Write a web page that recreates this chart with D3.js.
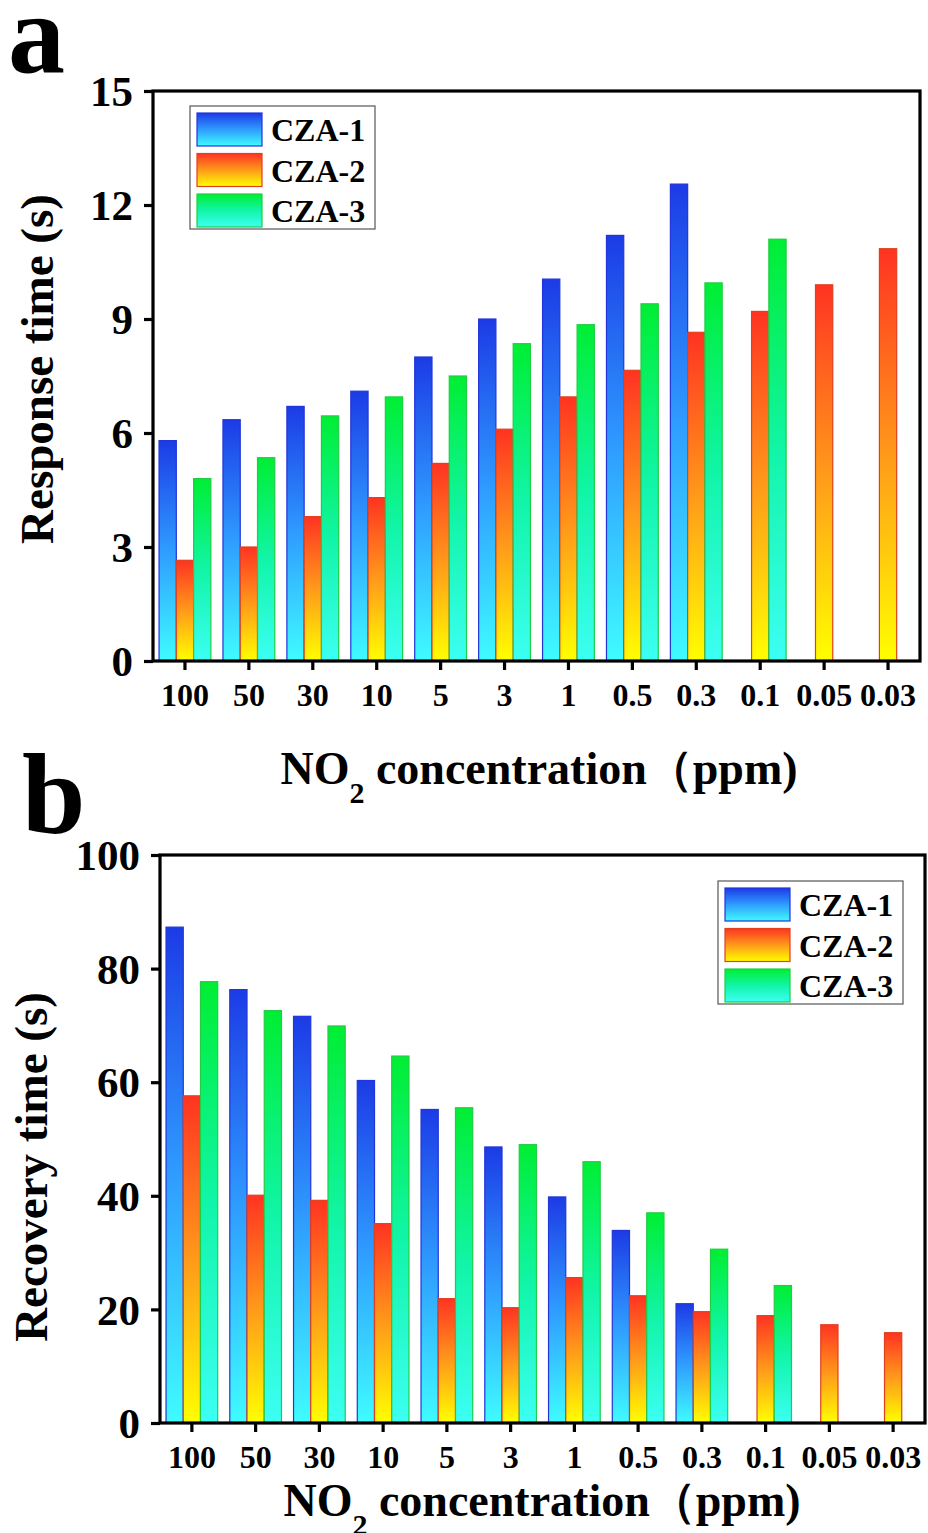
<!DOCTYPE html>
<html>
<head>
<meta charset="utf-8">
<script src="https://cdn.jsdelivr.net/npm/d3@7"></script>
<style>
  html, body { margin: 0; padding: 0; background: #fff; }
  svg text { font-family: "Liberation Serif", "Times New Roman", serif; font-weight: bold; fill: #000; }
</style>
</head>
<body>
<svg id="fig" width="928" height="1533"></svg>
<script>
// NO2 concentrations (ppm) along the x axis
const concentrations = ["100", "50", "30", "10", "5", "3", "1", "0.5", "0.3", "0.1", "0.05", "0.03"];
const seriesNames = ["CZA-1", "CZA-2", "CZA-3"];

// Response time (s)
const responseCZA1 = [5.8, 6.35, 6.7, 7.1, 8.0, 9.0, 10.05, 11.2, 12.55, null, null, null];
const responseCZA2 = [2.65, 3.0, 3.8, 4.3, 5.2, 6.1, 6.95, 7.65, 8.65, 9.2, 9.9, 10.85];
const responseCZA3 = [4.8, 5.35, 6.45, 6.95, 7.5, 8.35, 8.85, 9.4, 9.95, 11.1, null, null];
const responseTicks = [0, 3, 6, 9, 12, 15];

// Recovery time (s)
const recoveryCZA1 = [87.3, 76.3, 71.6, 60.3, 55.2, 48.6, 39.8, 33.9, 21.0, null, null, null];
const recoveryCZA2 = [57.6, 40.1, 39.2, 35.1, 21.9, 20.3, 25.6, 22.4, 19.6, 18.9, 17.3, 15.9];
const recoveryCZA3 = [77.7, 72.6, 69.9, 64.6, 55.5, 49.0, 46.0, 37.0, 30.6, 24.2, null, null];
const recoveryTicks = [0, 20, 40, 60, 80, 100];

const svg = d3.select("#fig");
const defs = svg.append("defs");

// vertical gradients per series: top colour -> bottom colour
const gradientStops = [
  { id: "g1", top: "#1c3be6", mid: "#2f9cff", bottom: "#3ffcff", stroke: "#2235d8" },
  { id: "g2", top: "#ff3322", mid: "#ff9a1a", bottom: "#ffff00", stroke: "#e0401e" },
  { id: "g3", top: "#00ee33", mid: "#11f5a8", bottom: "#3cfff4", stroke: "#22cc44" }
];
gradientStops.forEach(g => {
  const lg = defs.append("linearGradient").attr("id", g.id)
    .attr("x1", 0).attr("y1", 0).attr("x2", 0).attr("y2", 1);
  lg.append("stop").attr("offset", "0%").attr("stop-color", g.top);
  lg.append("stop").attr("offset", "50%").attr("stop-color", g.mid);
  lg.append("stop").attr("offset", "100%").attr("stop-color", g.bottom);
});

function drawPanel(p) {
  const g = svg.append("g");
  const x = d3.scaleBand().domain(concentrations).range([p.left, p.right]).paddingInner(0).paddingOuter(0);
  // three bars per group, with a gap between groups
  const xs = d3.scaleBand().domain(seriesNames).range([0, x.bandwidth()]).paddingInner(0).paddingOuter(0.35);
  const y = d3.scaleLinear().domain([0, p.max]).range([p.bottom, p.top]);

  // bars
  p.series.forEach((vals, si) => {
    const gs = gradientStops[si];
    g.append("g").selectAll("rect")
      .data(vals.map((v, i) => ({ c: concentrations[i], v })).filter(d => d.v != null))
      .join("rect")
      .attr("x", d => x(d.c) + xs(seriesNames[si]))
      .attr("width", xs.bandwidth())
      .attr("y", d => y(d.v))
      .attr("height", d => y(0) - y(d.v))
      .attr("fill", `url(#${gs.id})`)
      .attr("stroke", gs.stroke)
      .attr("stroke-width", 1.2);
  });

  // frame
  g.append("rect")
    .attr("x", p.left).attr("y", p.top)
    .attr("width", p.right - p.left).attr("height", p.bottom - p.top)
    .attr("fill", "none").attr("stroke", "#000").attr("stroke-width", 3.2);

  // x axis
  const xa = g.append("g").attr("transform", `translate(0,${p.bottom})`)
    .call(d3.axisBottom(x).tickSize(9).tickPadding(13));
  xa.select(".domain").remove();
  xa.selectAll(".tick line").attr("stroke", "#000").attr("stroke-width", 3.2);
  xa.selectAll(".tick text").style("font-size", "32px").attr("fill", "#000");

  // y axis
  const ya = g.append("g").attr("transform", `translate(${p.left},0)`)
    .call(d3.axisLeft(y).tickValues(p.ticks).tickSize(9).tickPadding(11));
  ya.select(".domain").remove();
  ya.selectAll(".tick line").attr("stroke", "#000").attr("stroke-width", 3.2);
  ya.selectAll(".tick text").style("font-size", "43px").attr("fill", "#000")
    .attr("dy", "0.34em");

  // y title
  g.append("text")
    .attr("transform", `translate(${p.yTitleX},${p.yTitleY}) rotate(-90)`)
    .attr("text-anchor", "middle")
    .style("font-size", "47px")
    .text(p.yTitle);

  // x title with subscript
  const xt = g.append("text")
    .attr("x", p.xTitleX).attr("y", p.xTitleY)
    .attr("text-anchor", "middle")
    .style("font-size", "46px");
  xt.append("tspan").text("NO");
  xt.append("tspan").attr("dy", 19).style("font-size", "30px").text("2");
  xt.append("tspan").attr("dy", -19).text(" concentration（ppm)");

  // panel letter
  svg.append("text").attr("x", p.letterX).attr("y", p.letterY)
    .style("font-size", "114px").text(p.letter);

  // legend
  const lg = g.append("g").attr("transform", `translate(${p.legendX},${p.legendY})`);
  lg.append("rect").attr("width", 185).attr("height", 123)
    .attr("fill", "#fff").attr("stroke", "#555").attr("stroke-width", 1.2);
  seriesNames.forEach((name, i) => {
    const gs = gradientStops[i];
    lg.append("rect")
      .attr("x", 7).attr("y", 7 + i * 40.5)
      .attr("width", 65).attr("height", 33)
      .attr("fill", `url(#${gs.id})`)
      .attr("stroke", gs.stroke).attr("stroke-width", 1.2);
    lg.append("text")
      .attr("x", 81).attr("y", 35 + i * 40.5)
      .style("font-size", "32px")
      .text(name);
  });
}

drawPanel({
  left: 153, right: 920, top: 91, bottom: 661, max: 15, ticks: responseTicks,
  series: [responseCZA1, responseCZA2, responseCZA3],
  yTitle: "Response time (s)", yTitleX: 53, yTitleY: 369,
  xTitleX: 539, xTitleY: 784,
  letter: "a", letterX: 8, letterY: 72,
  legendX: 190, legendY: 106
});

drawPanel({
  left: 160, right: 925, top: 855, bottom: 1423, max: 100, ticks: recoveryTicks,
  series: [recoveryCZA1, recoveryCZA2, recoveryCZA3],
  yTitle: "Recovery time (s)", yTitleX: 47, yTitleY: 1167,
  xTitleX: 542, xTitleY: 1516,
  letter: "b", letterX: 22, letterY: 833,
  legendX: 718, legendY: 881
});
</script>
</body>
</html>
